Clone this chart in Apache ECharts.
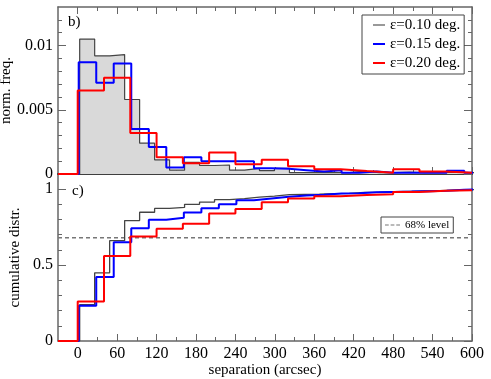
<!DOCTYPE html>
<html>
<head>
<meta charset="utf-8">
<script src="https://cdn.jsdelivr.net/npm/echarts@6/dist/echarts.min.js"></script>
<style>
html, body { margin: 0; padding: 0; background: #fff; }
#chart { width: 491px; height: 379px; }
</style>
</head>
<body>
<div id="chart"></div>
<script>
// search radius labels
var names = ['ε=0.10 deg.', 'ε=0.15 deg.', 'ε=0.20 deg.']

// bin edges in arcsec (one more than the bins)
var edges010 = [3, 25.8, 48.6, 71.4, 94.2, 117, 139.8, 162.6, 185.4, 208.2, 231, 253.8, 276.6, 299.4, 322.2,
  345, 367.8, 390.6, 413.4, 436.2, 459, 481.8, 504.6, 527.4, 550.2, 573, 595.8, 618.6]
var edges015 = [1.5, 28.2, 54.8, 81.5, 108.2, 134.8, 161.5, 188.2, 214.8, 241.5, 268.2, 294.8, 321.5, 348.2,
  374.8, 401.5, 428.2, 454.8, 481.5, 508.2, 534.8, 561.5, 588.2, 614.8]
var edges020 = [0, 40, 80, 120, 160, 200, 240, 280, 320, 360, 400, 440, 480, 520, 560, 600]

// normalised frequency per bin
var freq010 = [0.0105, 0.0092, 0.0093, 0.0058, 0.0024, 0.0011, 0.0003, 0.0009, 0.00066, 0.0007, 0.0003, 0.00044,
  0.00026, 0.00044, 0.0001, 0.0001, 0.0001, 0.0001, 0.00023, 0.0001, 0.0001, 0.00015, 0.0001, 0.0001, 0.00015,
  0.0001, 0.0001]
var freq015 = [0.0087, 0.0071, 0.0086, 0.0035, 0.0021, 0.0005, 0.0013, 0.001, 0.001, 0.001, 0.00044, 0.0004,
  0.0003, 0.0002, 0.0003, 0.0001, 0.0002, 0.0001, 0.0001, 0.0001, 0.0001, 0.00026, 0.0001]
var freq020 = [0.0065, 0.0075, 0.0032, 0.0013, 0.00083, 0.00167, 0.00076, 0.0011, 0.0006, 0.00037, 0.00023,
  0.0001, 0.00037, 0.0002, 0.0001]

// cumulative distribution at the end of each bin
var cum010 = [0.239, 0.449, 0.661, 0.793, 0.848, 0.873, 0.88, 0.9, 0.915, 0.931, 0.938, 0.948, 0.954, 0.964,
  0.966, 0.968, 0.971, 0.973, 0.978, 0.98, 0.983, 0.986, 0.988, 0.99, 0.994, 0.996, 0.998]
var cum015 = [0.232, 0.421, 0.65, 0.743, 0.799, 0.812, 0.847, 0.874, 0.901, 0.927, 0.939, 0.95, 0.958, 0.963,
  0.971, 0.974, 0.979, 0.982, 0.984, 0.987, 0.99, 0.997, 0.999]
var cum020 = [0.26, 0.56, 0.688, 0.74, 0.773, 0.84, 0.87, 0.914, 0.938, 0.953, 0.962, 0.966, 0.981, 0.989, 0.993]

var level68 = 0.68

// tick values
var xMajor = [0, 60, 120, 180, 240, 300, 360, 420, 480, 540, 600]
var xMinor = [30, 90, 150, 210, 270, 330, 390, 450, 510, 570]
var freqMajor = [0, 0.005, 0.01]
var freqMinor = [0.001, 0.002, 0.003, 0.004, 0.006, 0.007, 0.008, 0.009, 0.011, 0.012]
var cumMajor = [0, 0.5, 1]
var cumMinor = [0.1, 0.2, 0.3, 0.4, 0.6, 0.7, 0.8, 0.9]

var serif = '"Liberation Serif", "DejaVu Serif", serif'
var frame = '#666'

// step line points: start at zero on the left edge, hold the last value to the end
function steps(edges, vals) {
  var pts = [[-30, 0]]
  for (var i = 0; i < vals.length; i++) pts.push([edges[i], vals[i]])
  pts.push([edges[vals.length], vals[vals.length - 1]])
  return pts
}

var noLine = { show: false, onZero: false }
function xAx(grid, pos, ticks, len, opts) {
  return Object.assign({
    type: 'value', gridIndex: grid, position: pos, min: -30, max: 600, offset: 0,
    splitLine: { show: false },
    axisLine: noLine,
    axisTick: { show: true, inside: true, length: len, customValues: ticks, lineStyle: { color: frame, width: 1 } },
    axisLabel: { show: false }
  }, opts || {})
}
function yAx(grid, pos, max, ticks, len, opts) {
  return Object.assign({
    type: 'value', gridIndex: grid, position: pos, min: 0, max: max, offset: 0,
    splitLine: { show: false },
    axisLine: noLine,
    axisTick: { show: true, inside: true, length: len, customValues: ticks, lineStyle: { color: frame, width: 1 } },
    axisLabel: { show: false }
  }, opts || {})
}

var line = function (c, w) { return { show: true, onZero: false, lineStyle: { color: c, width: w } } }
var lbl = function (vals) {
  return { show: true, customValues: vals, margin: 5, color: '#000', fontFamily: serif, fontSize: 16 }
}
var nameStyle = { fontFamily: serif, fontSize: 15, color: '#000' }

var option = {
  animation: false,
  grid: [
    { left: 58, right: 19, top: 7, height: 167, outerBoundsMode: 'none', containLabel: false },
    { left: 58, right: 19, top: 174, height: 167, outerBoundsMode: 'none', containLabel: false }
  ],
  xAxis: [
    xAx(0, 'bottom', xMajor, 7, { axisLine: line('#000', 1.5) }),
    xAx(0, 'bottom', xMinor, 4),
    xAx(0, 'top', xMajor, 7, { axisLine: line(frame, 1.5) }),
    xAx(0, 'top', xMinor, 4),
    xAx(1, 'bottom', xMajor, 7, {
      axisLine: line(frame, 1.5),
      axisLabel: lbl(xMajor),
      name: 'separation (arcsec)', nameLocation: 'middle', nameGap: 16,
      nameTextStyle: Object.assign({ verticalAlign: 'top' }, nameStyle)
    }),
    xAx(1, 'bottom', xMinor, 4)
  ],
  yAxis: [
    yAx(0, 'left', 0.013, freqMajor, 8, {
      axisLine: line(frame, 1.5),
      axisLabel: lbl(freqMajor),
      name: 'norm. freq.', nameLocation: 'middle', nameGap: 44, nameMoveOverlap: false,
      nameTextStyle: nameStyle
    }),
    yAx(0, 'left', 0.013, freqMinor, 4),
    yAx(0, 'right', 0.013, freqMajor, 8, { axisLine: line(frame, 1.5) }),
    yAx(0, 'right', 0.013, freqMinor, 4),
    yAx(1, 'left', 1.1, cumMajor, 8, {
      axisLine: line(frame, 1.5),
      axisLabel: lbl(cumMajor),
      name: 'cumulative distr.', nameLocation: 'middle', nameGap: 14,
      nameTextStyle: nameStyle
    }),
    yAx(1, 'left', 1.1, cumMinor, 4),
    yAx(1, 'right', 1.1, cumMajor, 8, { axisLine: line(frame, 1.5) }),
    yAx(1, 'right', 1.1, cumMinor, 4)
  ],
  legend: [
    {
      data: [
        { name: names[0], itemStyle: { color: '#999' } },
        { name: names[1] },
        { name: names[2] }
      ],
      orient: 'vertical', left: 362, top: 15, icon: 'rect', itemWidth: 12, itemHeight: 2, itemGap: 3,
      padding: [2, 4, 3, 11], borderColor: '#444', borderWidth: 1, selectedMode: false,
      textStyle: { fontFamily: serif, fontSize: 15, color: '#000', lineHeight: 16 }
    },
    {
      data: [{ name: '68% level', itemStyle: { color: '#777' } }],
      left: 381, top: 217, itemWidth: 15, itemHeight: 1.5, padding: [2, 4, 2, 4],
      icon: 'path://M0,0H4V1H0Z M6,0H10V1H6Z M12,0H16V1H12Z',
      borderColor: '#444', borderWidth: 1, selectedMode: false,
      textStyle: { fontFamily: serif, fontSize: 11, color: '#000', lineHeight: 12 }
    }
  ],
  graphic: [
    { type: 'text', left: 68, top: 15, style: { text: 'b)', font: '15px ' + serif, fill: '#000' } },
    { type: 'text', left: 72, top: 184, style: { text: 'c)', font: '15px ' + serif, fill: '#000' } }
  ],
  series: [
    {
      name: names[0], type: 'line', step: 'end', symbol: 'none', xAxisIndex: 0, yAxisIndex: 0,
      data: steps(edges010, freq010), color: '#444',
      lineStyle: { color: '#444', width: 1.2 }, areaStyle: { color: '#d9d9d9', opacity: 1 }
    },
    {
      name: names[1], type: 'line', step: 'end', symbol: 'none', xAxisIndex: 0, yAxisIndex: 0,
      data: steps(edges015, freq015), color: '#0000ff', lineStyle: { color: '#0000ff', width: 2 }
    },
    {
      name: names[2], type: 'line', step: 'end', symbol: 'none', xAxisIndex: 0, yAxisIndex: 0,
      data: steps(edges020, freq020), color: '#ff0000', lineStyle: { color: '#ff0000', width: 2 }
    },
    {
      name: '68% level', type: 'line', symbol: 'none', xAxisIndex: 4, yAxisIndex: 4,
      data: [[-30, level68], [600, level68]], color: '#777',
      lineStyle: { color: '#777', width: 1.3, type: [4, 3] }
    },
    {
      name: names[0], type: 'line', step: 'end', symbol: 'none', xAxisIndex: 4, yAxisIndex: 4,
      data: steps(edges010, cum010), color: '#444', lineStyle: { color: '#444', width: 1.3 }
    },
    {
      name: names[1], type: 'line', step: 'end', symbol: 'none', xAxisIndex: 4, yAxisIndex: 4,
      data: steps(edges015, cum015), color: '#0000ff', lineStyle: { color: '#0000ff', width: 2 }
    },
    {
      name: names[2], type: 'line', step: 'end', symbol: 'none', xAxisIndex: 4, yAxisIndex: 4,
      data: steps(edges020, cum020), color: '#ff0000', lineStyle: { color: '#ff0000', width: 2 }
    }
  ]
}

var chart = echarts.init(document.getElementById('chart'))
chart.setOption(option)
</script>
</body>
</html>
